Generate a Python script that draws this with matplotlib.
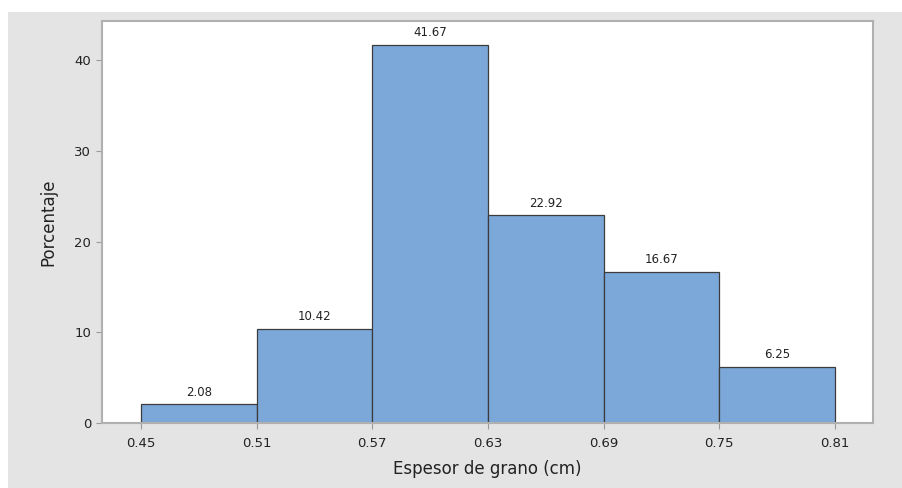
import matplotlib.pyplot as plt
from matplotlib.patches import Rectangle

# histogram data (percent per class)
edges = [0.45, 0.51, 0.57, 0.63, 0.69, 0.75, 0.81]
percent = [2.08, 10.42, 41.67, 22.92, 16.67, 6.25]
yticks = [0, 10, 20, 30, 40]

plt.rcParams['font.family'] = ['DejaVu Sans']

fig = plt.figure(figsize=(9.03, 4.88), dpi=100)
fig.patches.append(Rectangle((8 / 903, 0), 1, 1 - 12 / 488, transform=fig.transFigure,
                             facecolor='#e4e4e4', edgecolor='none', zorder=-10))
ax = fig.add_axes([0.1126, 0.1326, 0.8539, 0.8244])
ax.set_facecolor('white')

widths = [edges[i + 1] - edges[i] for i in range(len(percent))]
bars = ax.bar(edges[:-1], percent, width=widths, align='edge',
              color='#7ba7d9', edgecolor='#3c3c3c', linewidth=0.9)
for b, v in zip(bars, percent):
    ax.text(b.get_x() + b.get_width() / 2, v + 0.6, f'{v:.2f}',
            ha='center', va='bottom', fontsize=8.5, color='#222222')

ax.set_xlim(0.4296, 0.8296)
ax.set_ylim(0, 44.3)
ax.set_xticks(edges)
ax.set_xticklabels([f'{e:.2f}' for e in edges])
ax.set_yticks(yticks)

for s in ax.spines.values():
    s.set_color('#b0b0b0')
    s.set_linewidth(1.5)
ax.tick_params(colors='#9a9a9a', labelcolor='#222222', labelsize=9.5, length=4, width=0.8)
ax.tick_params(axis='x', pad=6)

ax.set_xlabel('Espesor de grano (cm)', fontsize=12, color='#222222', labelpad=7)
ax.set_ylabel('Porcentaje', fontsize=12, color='#222222', labelpad=12)

fig.savefig('out.png', dpi=100)
